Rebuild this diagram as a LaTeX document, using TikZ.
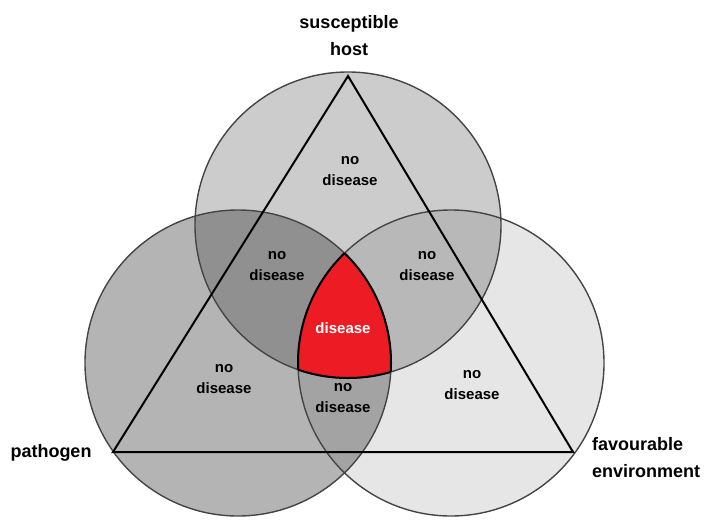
\documentclass[tikz,border=0pt]{standalone}
\usepackage{fontspec}
\setmainfont{Liberation Sans}
\usetikzlibrary{positioning}
\definecolor{hostgray}{gray}{0.80}
\definecolor{pathgray}{gray}{0.706}
\definecolor{envgray}{gray}{0.902}
\definecolor{hpgray}{gray}{0.565}
\definecolor{hegray}{gray}{0.722}
\definecolor{pegray}{gray}{0.64}
\definecolor{rim}{gray}{0.27}
\definecolor{diseasered}{RGB}{237,28,36}
\tikzstyle{ring}=[draw=rim,line width=1.4pt]
\tikzstyle{edge}=[draw=black,line width=2pt]
\tikzstyle{txt}=[align=center,inner sep=0pt,font=\fontsize{15}{21}\selectfont\bfseries]
\tikzstyle{lbl}=[align=center,inner sep=0pt,font=\fontsize{18}{27}\selectfont\bfseries]

\begin{document}
\begin{tikzpicture}[x=1pt,y=-1pt]
\useasboundingbox (0,0) rectangle (708,519);
% circle centres and triangle corners
\coordinate (H) at (348,225);
\coordinate (P) at (238,363);
\coordinate (E) at (451,363);
\coordinate (apex) at (348,76);
\coordinate (left) at (113,452);
\coordinate (right) at (573,452);

\fill[hostgray] (H) circle (153pt);
\fill[pathgray] (P) circle (153pt);
\fill[envgray] (E) circle (153pt);
\begin{scope}\clip (H) circle (153pt); \fill[hpgray] (P) circle (153pt);\end{scope}
\begin{scope}\clip (H) circle (153pt); \fill[hegray] (E) circle (153pt);\end{scope}
\begin{scope}\clip (P) circle (153pt); \fill[pegray] (E) circle (153pt);\end{scope}
\begin{scope}\clip (H) circle (153pt); \clip (P) circle (153pt); \fill[diseasered] (E) circle (153pt);\end{scope}

\draw[ring] (H) circle (153pt);
\draw[ring] (P) circle (153pt);
\draw[ring] (E) circle (153pt);

% border of the red part
\begin{scope}\clip (P) circle (153pt); \clip (E) circle (153pt); \draw[edge] (H) circle (153pt);\end{scope}
\begin{scope}\clip (H) circle (153pt); \clip (E) circle (153pt); \draw[edge] (P) circle (153pt);\end{scope}
\begin{scope}\clip (H) circle (153pt); \clip (P) circle (153pt); \draw[edge] (E) circle (153pt);\end{scope}

\draw[edge] (apex) -- (left) -- (right) -- cycle;

\node[txt] (h) at (350,171) {no\\disease};
\node[txt] (hp) at (277,266) {no\\disease};
\node[txt] (he) at (427,266) {no\\disease};
\node[txt,text=white] (all) at (343,328) {disease};
\node[txt] (p) at (224,379) {no\\disease};
\node[txt] (pe) at (343,398) {no\\disease};
\node[txt] (e) at (472,385) {no\\disease};

\node[lbl] (host) at (349,36) {susceptible\\host};
\node[lbl] (pathogen) at (51,453) {pathogen};
\node[lbl,align=left,anchor=north west] (env) at (592,437) {favourable\\environment};
\end{tikzpicture}
\end{document}
